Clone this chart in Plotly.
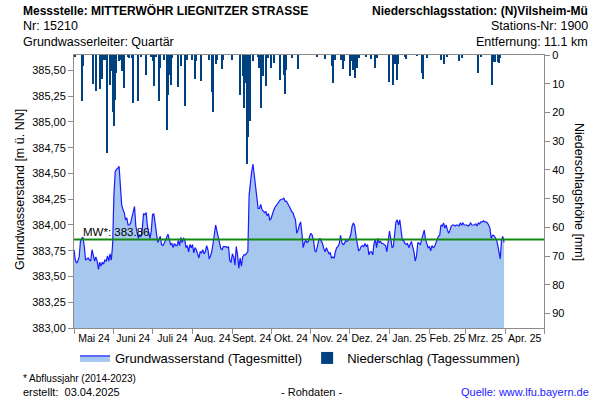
import pandas as pd
import plotly.graph_objects as go

START = "2024-05-01"

# Groundwater level, daily means [m ü. NN], one list per month
gw_may = [383.76, 383.66, 383.63, 383.65, 383.69, 383.84, 383.87, 383.88, 383.79, 383.66,
          383.67, 383.68, 383.66, 383.65, 383.76, 383.69, 383.65, 383.69, 383.65, 383.57,
          383.64, 383.60, 383.64, 383.62, 383.66, 383.65, 383.70, 383.65, 383.72, 383.66,
          383.81]
gw_jun = [384.29, 384.52, 384.54, 384.55, 384.57, 384.39, 384.20, 384.15, 384.12, 384.05,
          384.07, 384.00, 384.00, 384.02, 384.07, 384.13, 384.18, 383.99, 383.94, 383.87,
          383.90, 383.89, 383.96, 384.11, 384.10, 384.12, 383.99, 383.91, 383.87, 383.94]
gw_jul = [384.10, 384.11, 384.00, 383.88, 383.83, 383.86, 383.89, 383.81, 383.80, 383.82,
          383.86, 383.88, 383.91, 383.86, 383.81, 383.82, 383.78, 383.82, 383.80, 383.80,
          383.85, 383.80, 383.88, 383.83, 383.87, 383.86, 383.78, 383.80, 383.74, 383.81,
          383.78]
gw_aug = [383.81, 383.73, 383.78, 383.76, 383.72, 383.68, 383.74, 383.73, 383.76, 383.72,
          383.74, 383.80, 383.76, 383.67, 383.70, 383.74, 383.82, 383.92, 384.00, 383.94,
          383.87, 383.83, 383.77, 383.76, 383.79, 383.79, 383.79, 383.78, 383.79, 383.65,
          383.64]
gw_sep = [383.72, 383.69, 383.61, 383.79, 383.71, 383.58, 383.68, 383.60, 383.69, 383.71,
          383.71, 383.73, 383.74, 384.29, 384.44, 384.52, 384.59, 384.49, 384.36, 384.26,
          384.16, 384.16, 384.20, 384.15, 384.13, 384.12, 384.13, 384.09, 384.11, 384.05]
gw_oct = [384.06, 384.11, 384.14, 384.17, 384.19, 384.20, 384.22, 384.24, 384.25, 384.25,
          384.26, 384.23, 384.23, 384.21, 384.19, 384.16, 384.13, 384.12, 384.08, 384.05,
          383.92, 383.95, 384.00, 384.03, 383.92, 383.78, 383.83, 383.85, 383.83, 383.84,
          383.89]
gw_nov = [383.92, 383.90, 383.85, 383.75, 383.74, 383.79, 383.85, 383.87, 383.84, 383.82,
          383.77, 383.74, 383.78, 383.75, 383.72, 383.73, 383.68, 383.69, 383.68, 383.74,
          383.78, 383.79, 383.82, 383.90, 383.83, 383.81, 383.82, 383.85, 383.84, 383.85]
gw_dec = [383.87, 383.91, 383.99, 384.02, 383.99, 383.89, 383.82, 383.75, 383.76, 383.79,
          383.80, 383.79, 383.82, 383.79, 383.81, 383.71, 383.74, 383.74, 383.71, 383.82,
          383.86, 383.78, 383.87, 383.83, 383.84, 383.82, 383.82, 383.81, 383.80, 383.74,
          383.83]
gw_jan = [383.94, 383.87, 383.78, 383.79, 383.94, 384.03, 384.05, 384.00, 384.05, 383.95,
          383.85, 383.85, 383.82, 383.81, 383.82, 383.78, 383.81, 383.84, 383.79, 383.74,
          383.65, 383.70, 383.83, 383.82, 383.81, 383.86, 383.92, 383.95, 383.86, 383.81,
          383.78]
gw_feb = [383.79, 383.75, 383.80, 383.78, 383.79, 383.83, 383.86, 383.89, 383.90, 384.00,
          383.99, 384.02, 383.97, 384.00, 383.95, 383.92, 383.95, 383.99, 384.00, 384.00,
          383.99, 384.00, 384.00, 383.99, 384.02, 384.00, 384.02, 384.00]
gw_mar = [384.00, 384.00, 383.99, 384.00, 384.02, 384.00, 384.00, 384.00, 384.01, 383.99,
          384.02, 384.01, 384.03, 384.03, 384.04, 384.03, 384.03, 384.02, 384.00, 383.97,
          383.87, 383.90, 383.90, 383.88, 383.86, 383.81, 383.75, 383.67, 383.85, 383.89,
          383.83]

gw_levels = (gw_may + gw_jun + gw_jul + gw_aug + gw_sep + gw_oct + gw_nov
             + gw_dec + gw_jan + gw_feb + gw_mar)
gw_dates = pd.date_range(START, periods=len(gw_levels), freq="D")

# Daily precipitation sums [mm]: days after START and amounts
rain_day = [1, 6, 7, 15, 17, 20, 22, 23, 24, 26, 28, 29, 30, 31, 32, 33, 35, 36, 37, 39,
            42, 43, 45, 46, 50, 52, 56, 60, 61, 62, 64, 66, 67, 70, 72, 73, 74, 75, 76, 81,
            83, 86, 88, 92, 94, 95, 99, 105, 107, 108, 110, 111, 115, 116, 123, 129, 131, 132, 133, 134,
            135, 136, 137, 139, 143, 144, 145, 147, 149, 151, 153, 155, 160, 163, 164, 165, 169, 174, 189, 195,
            200, 201, 203, 207, 209, 210, 214, 215, 217, 218, 220, 221, 227, 231, 234, 235, 245, 248, 249, 251,
            252, 257, 258, 266, 270, 271, 274, 285, 287, 290, 299, 301, 314, 316, 325, 326, 327, 329, 330, 331]
rain_mm = [0.7, 16.0, 4.0, 10.0, 12.4, 11.8, 8.2, 1.6, 1.6, 34.0, 10.3, 5.7, 19.9, 24.6, 15.6, 6.3, 2.2, 1.6, 5.7, 11.5,
           0.5, 1.0, 1.0, 16.7, 15.9, 0.5, 6.8, 0.5, 2.2, 10.9, 0.5, 16.1, 4.5, 1.6, 26.2, 13.8, 6.8, 10.3, 1.0, 11.1,
           4.0, 17.9, 1.6, 1.6, 8.4, 2.2, 9.2, 1.6, 13.0, 19.9, 3.0, 1.6, 4.9, 1.6, 1.6, 14.0, 7.4, 18.5, 9.8, 37.8,
           28.7, 14.4, 22.9, 2.2, 0.5, 4.5, 18.5, 7.4, 10.9, 1.0, 4.5, 2.8, 8.6, 7.0, 13.5, 5.1, 1.0, 4.8, 0.5, 1.4,
           3.9, 9.8, 1.6, 1.6, 4.9, 2.2, 7.2, 2.2, 5.3, 8.0, 4.5, 1.0, 0.5, 1.4, 4.5, 1.0, 9.4, 10.6, 3.0, 8.6,
           3.0, 0.5, 1.3, 0.2, 6.3, 8.4, 1.0, 1.9, 3.1, 0.5, 2.2, 1.0, 6.3, 0.5, 10.3, 2.5, 2.5, 2.5, 2.8, 1.0]
rain_dates = pd.Timestamp(START) + pd.to_timedelta(rain_day, unit="D")

MEAN_LEVEL = 383.86
MEAN_LABEL = "MW*: 383.86"

month_labels = ["Mai 24", "Juni 24", "Juli 24", "Aug. 24", "Sept. 24", "Okt. 24",
                "Nov. 24", "Dez. 24", "Jan. 25", "Feb. 25", "Mrz. 25", "Apr. 25"]
month_starts = pd.date_range("2024-05-01", "2025-05-01", freq="MS")
label_pos = month_starts[:-1] + (month_starts[1:] - month_starts[:-1]) / 2

gw_ticks = [383.0, 383.25, 383.5, 383.75, 384.0, 384.25, 384.5, 384.75, 385.0, 385.25, 385.5]
rain_ticks = [0, 10, 20, 30, 40, 50, 60, 70, 80, 90]

FONT = "Liberation Sans, Arial, sans-serif"
AXC = "#8c8c8c"

W, H = 600, 400
# plot area in pixels
L, R, T, B = 74, 544, 55, 328


def px(xp):
    return (xp - L) / (R - L)


def py(yp):
    return (B - yp) / (B - T)


fig = go.Figure()
fig.add_trace(go.Scatter(
    x=gw_dates, y=gw_levels, mode="lines", fill="tozeroy",
    fillcolor="#a6c8ef", line=dict(color="#1a1aff", width=1.2),
    name="Grundwasserstand (Tagesmittel)", yaxis="y"))
fig.add_trace(go.Bar(
    x=rain_dates, y=rain_mm, yaxis="y2", marker_color="#00427f",
    marker_line_width=0, width=86400000 * 0.8,
    name="Niederschlag (Tagessummen)"))

fig.add_shape(type="line", xref="paper", x0=0, x1=1, yref="y",
              y0=MEAN_LEVEL, y1=MEAN_LEVEL, line=dict(color="#138a13", width=2))

ann = []


def text(t, x, y, size=12, anchor="left", bold=False, color="black", angle=0):
    if bold:
        t = "<b>" + t + "</b>"
    ann.append(dict(text=t, x=px(x), y=py(y), xref="paper", yref="paper",
                    xanchor=anchor, yanchor="middle", showarrow=False,
                    textangle=angle, font=dict(family=FONT, size=size, color=color)))


text("Messstelle: MITTERWÖHR LIEGNITZER STRASSE", 21, 11, 12, bold=True)
text("Nr: 15210", 21, 26, 12.5)
text("Grundwasserleiter: Quartär", 21, 42, 12.5)
text("Niederschlagsstation: (N)Vilsheim-Mü", 590, 11, 12, anchor="right", bold=True)
text("Stations-Nr: 1900", 590, 26, 12.5, anchor="right")
text("Entfernung: 11.1 km", 590, 42, 12.5, anchor="right")
text("Grundwasserstand [m ü. NN]", 20, 190, 12.5, anchor="center", angle=-90)
text("Niederschlagshöhe [mm]", 579, 192, 12.5, anchor="center", angle=90)
text("* Abflussjahr (2014-2023)", 21, 378, 10)
text("erstellt:  03.04.2025", 21, 392, 11)
text("- Rohdaten -", 311, 392, 11, anchor="center")
text("Quelle: www.lfu.bayern.de", 591, 392, 11, anchor="right", color="#1a1aff")
ann.append(dict(text=MEAN_LABEL, x=px(81), y=MEAN_LEVEL, xref="paper", yref="y",
                xanchor="left", yanchor="bottom", showarrow=False, yshift=-1,
                font=dict(family=FONT, size=11.5, color="black")))

fig.update_layout(
    width=W, height=H,
    margin=dict(l=L, r=W - R, t=T, b=H - B, pad=0, autoexpand=False),
    paper_bgcolor="white", plot_bgcolor="white",
    separators=",.",
    font=dict(family=FONT, size=11, color="black"),
    bargap=0, barmode="overlay",
    annotations=ann,
    legend=dict(orientation="h", x=300 / W, xref="container", xanchor="center",
                y=1 - 358 / H, yref="container", yanchor="middle",
                font=dict(family=FONT, size=13), itemwidth=30,
                traceorder="normal"),
    xaxis=dict(type="date", range=[month_starts[0], month_starts[-1]],
               showgrid=False, zeroline=False, showline=True, linecolor=AXC,
               linewidth=1, mirror=True, automargin=False, tickangle=0,
               tickmode="array", tickvals=label_pos, ticktext=month_labels,
               ticks="", tickfont=dict(size=10.5),
               minor=dict(tickmode="array", tickvals=month_starts, ticks="outside",
                          ticklen=5, tickcolor=AXC, showgrid=False)),
    yaxis=dict(range=[383.0, 385.65], tickmode="array", tickvals=gw_ticks,
               tickformat=".2f", showgrid=False, zeroline=False, automargin=False,
               showline=True, linecolor=AXC, ticks="outside", ticklen=5,
               tickcolor=AXC, tickfont=dict(size=11)),
    yaxis2=dict(range=[95, 0], overlaying="y", side="right", tickmode="array",
                tickvals=rain_ticks, showgrid=False, zeroline=False, automargin=False,
                showline=True, linecolor=AXC, ticks="outside", ticklen=5,
                tickcolor=AXC, tickfont=dict(size=11)),
)

fig.write_html(
    "out.html",
    config={"displayModeBar": False},
    post_script="document.body.style.margin='0px';document.body.style.overflow='hidden';",
)
